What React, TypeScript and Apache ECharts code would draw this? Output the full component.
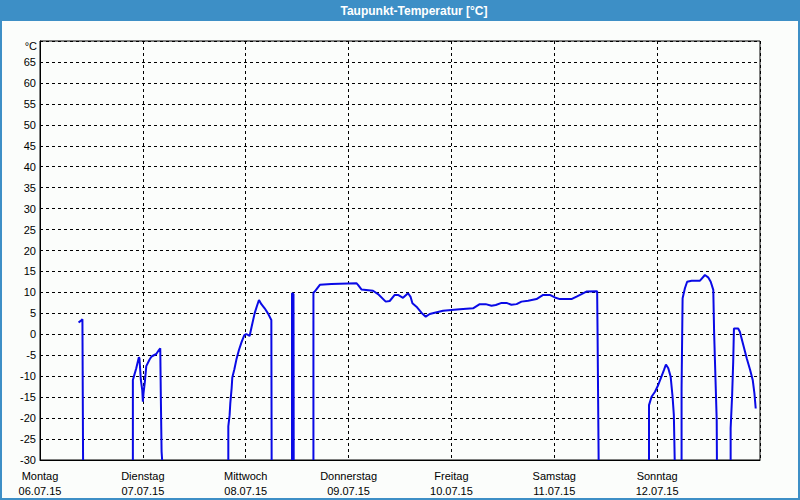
import React, { useEffect, useRef } from "react";
import * as echarts from "echarts";

const dayNames = ["Montag", "Dienstag", "Mittwoch", "Donnerstag", "Freitag", "Samstag", "Sonntag"];
const dayDates = ["06.07.15", "07.07.15", "08.07.15", "09.07.15", "10.07.15", "11.07.15", "12.07.15"];

// hours since Monday 06.07.15 00:00; null marks a gap in the record
const hours: (number | null)[] = [
  9.0, 9.5, 9.9, 10.0, 10.05, null,
  21.67, 21.67, 21.9, 22.46, 23.07, 23.2, 23.53, 23.86, 24.0, 24.15, 24.47, 24.8, 25.57, 26.03, 27.13, 27.74, 28.06, 28.2, 28.37, 28.5, null,
  43.94, 43.94, 44.24, 44.4, 44.71, 44.87, 45.34, 45.81, 46.42, 47.05, 47.68, 48.14, 48.91, 49.38, 50.08, 50.62, 51.09, 51.65, 52.42, 53.19, 53.98, 54.05, null,
  58.8, 58.8, 59.15, 59.2, null,
  63.8, 63.8, 64.1, 65.3, 67.99, 73.83, 74.2, 75.0, 77.7, 78.87, 80.67, 81.6, 82.77, 83.54, 84.7, 85.87, 86.44, 86.9, 87.84, 89.0, 90.0, 90.94, 92.1, 94.05, 96.0, 97.94, 101.05, 102.6, 104.0, 105.35, 106.35, 107.7, 108.85, 110.0, 111.2, 112.35, 113.9, 115.85, 117.4, 118.96, 120.13, 121.3, 124.0, 125.2, 126.36, 127.5, 130.0, 130.1, 130.35, null,
  142.1, 142.1, 142.7, 143.5, 144.25, 145.0, 145.6, 146.05, 146.6, 147.15, 147.6, 147.9, 148.1, null,
  149.7, 149.7, 149.94, 150.48, 151.0, 152.05, 154.0, 155.15, 155.9, 156.5, 157.1, 157.3, 157.9, 157.95, null,
  161.15, 161.15, 161.5, 161.75, 161.92, 162.9, 163.3, 164.1, 164.9, 165.7, 166.3, 166.7, 167.0,
];

const dewPoint: (number | null)[] = [
  2.8, 3.2, 3.6, 3.5, -30, null,
  -30, -10.9, -10.1, -8.1, -5.5, -5.7, -10.9, -13.3, -16.1, -14.1, -11.3, -7.6, -6.0, -5.3, -4.7, -3.75, -3.35, -15.3, -28, -30, null,
  -30, -22, -19.3, -16.5, -12.9, -10.3, -8.4, -6.1, -3.75, -1.8, -0.2, 0.07, -0.4, 1.8, 5.0, 6.75, 8.2, 7.2, 6.2, 5.0, 3.4, -30, null,
  -30, 9.8, 9.6, -30, null,
  -30, 9.9, 10.2, 11.8, 12.0, 12.2, 11.8, 10.7, 10.4, 9.6, 7.8, 7.95, 9.4, 9.4, 8.7, 9.8, 9.0, 7.4, 6.6, 5.15, 4.2, 4.85, 5.15, 5.6, 5.8, 6.0, 6.2, 7.2, 7.2, 6.8, 7.0, 7.5, 7.5, 7.05, 7.2, 7.8, 8.0, 8.4, 9.4, 9.4, 8.8, 8.4, 8.4, 9.0, 9.6, 10.2, 10.3, 0.2, -30, null,
  -30, -16.9, -14.9, -13.7, -12.1, -10.1, -8.5, -7.2, -8.1, -10.1, -14.9, -19.3, -30, null,
  -30, -12.9, 8.6, 11.0, 12.55, 12.8, 12.8, 14.15, 13.6, 12.55, 10.6, 0.2, -20.5, -30, null,
  -30, -22.4, -14.5, -6.5, 1.4, 1.4, 0.6, -2.55, -5.7, -8.5, -10.9, -14.1, -17.7,
];

const FONT = "'Liberation Sans', Arial, sans-serif";

export default function App() {
  const ref = useRef<HTMLDivElement>(null);
  useEffect(() => {
    if (!ref.current) return;
    const chart = echarts.init(ref.current, null, { renderer: "svg" });
    const data = hours.map((h, i) => (h === null || dewPoint[i] === null ? "-" : [h, dewPoint[i]]));
    chart.setOption({
      animation: false,
      backgroundColor: "#fbfdfb",
      textStyle: { fontFamily: FONT },
      grid: {
        left: 40,
        right: 40,
        top: 41,
        bottom: 40,
        show: true,
        borderColor: "#000",
        borderWidth: 1,
        backgroundColor: "transparent",
      },
      xAxis: {
        type: "value",
        min: 0,
        max: 168,
        interval: 24,
        axisLine: { show: true, onZero: false, lineStyle: { color: "#000", width: 1 } },
        axisTick: { show: false },
        splitLine: { show: true, lineStyle: { color: "#000", type: [3, 3], width: 1 } },
        axisLabel: {
          color: "#000",
          fontSize: 11,
          fontFamily: FONT,
          lineHeight: 15,
          margin: 8,
          formatter: (v: number) => {
            const i = Math.round(v / 24);
            if (i >= dayNames.length) return "";
            return dayNames[i] + "\n" + dayDates[i];
          },
        },
      },
      yAxis: {
        type: "value",
        min: -30,
        max: 70,
        interval: 5,
        axisLine: { show: true, onZero: false, lineStyle: { color: "#000", width: 1 } },
        axisTick: { show: false },
        splitLine: { show: true, lineStyle: { color: "#000", type: [3, 3], width: 1 } },
        axisLabel: {
          color: "#000",
          fontSize: 11,
          fontFamily: FONT,
          margin: 4,
          formatter: (v: number) => (v >= 70 ? "" : String(v)),
        },
      },
      graphic: [
        {
          type: "rect",
          shape: { x: 0, y: 0, width: 800, height: 21 },
          style: { fill: "#3d8fc6" },
          silent: true,
        },
        {
          type: "rect",
          shape: { x: 1, y: 1, width: 798, height: 498 },
          style: { fill: "none", stroke: "#3d8fc6", lineWidth: 2 },
          silent: true,
        },
        {
          type: "text",
          x: 414,
          y: 11,
          style: {
            text: "Taupunkt-Temperatur [°C]",
            fill: "#ffffff",
            font: "bold 12px " + FONT,
            textAlign: "center",
            textVerticalAlign: "middle",
          },
        },
        {
          type: "text",
          x: 37,
          y: 46,
          style: {
            text: "°C",
            fill: "#000",
            font: "11px " + FONT,
            textAlign: "right",
            textVerticalAlign: "middle",
          },
        },
      ],
      series: [
        {
          type: "line",
          data,
          showSymbol: false,
          symbol: "none",
          connectNulls: false,
          clip: true,
          lineStyle: { color: "#0a0ae6", width: 2 },
        },
      ],
    });
    return () => chart.dispose();
  }, []);
  return <div ref={ref} style={{ position: "fixed", left: 0, top: 0, width: 800, height: 500 }} />;
}
